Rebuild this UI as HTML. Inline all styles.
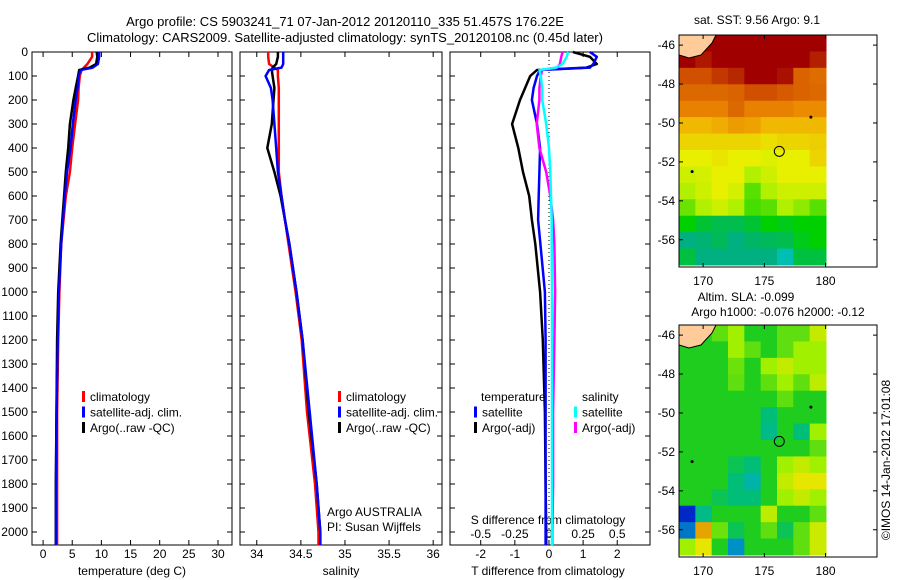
<!DOCTYPE html>
<html><head><meta charset="utf-8">
<style>
html,body{margin:0;padding:0;background:#fff;}
svg{display:block;font-family:"Liberation Sans",sans-serif;}
text{font-size:12px;fill:#000;}
</style></head>
<body>
<svg id="fig" width="900" height="580" viewBox="0 0 900 580" xmlns="http://www.w3.org/2000/svg">
<text x="345" y="26" text-anchor="middle" style="font-size:13px">Argo profile: CS 5903241_71 07-Jan-2012 20120110_335 51.457S 176.22E</text>
<text x="345" y="42" text-anchor="middle" style="font-size:13px">Climatology: CARS2009. Satellite-adjusted climatology: synTS_20120108.nc (0.45d later)</text>
<text x="757" y="24" text-anchor="middle">sat. SST: 9.56 Argo: 9.1</text>
<text x="746" y="301" text-anchor="middle">Altim. SLA: -0.099</text>
<text x="778" y="316" text-anchor="middle">Argo h1000: -0.076 h2000: -0.12</text>
<text transform="translate(890,460) rotate(-90)" text-anchor="middle">©IMOS 14-Jan-2012 17:01:08</text>
<g id="g"></g>
</svg>
<script>
// ---- profile data ----
const depthT = [0,20,50,65,75,100,150,200,300,400,500,600,700,800,1000,1200,1500,1800,2000,2055];
const tempClim = [8.4,8.4,7.6,7.0,6.6,6.3,6.1,6.0,5.5,5.0,4.6,3.9,3.5,3.1,2.8,2.6,2.4,2.4,2.4,2.4];
const tempSat  = [9.6,9.6,9.4,8.5,6.4,6.1,5.9,5.6,5.1,4.7,4.1,3.7,3.4,3.1,2.7,2.5,2.3,2.2,2.2,2.2];
const tempArgo = [9.2,9.3,9.1,8.0,6.2,6.0,5.6,5.2,4.6,4.3,3.9,3.6,3.3,3.0,2.6,2.4,2.3,2.2,2.2,2.2];
const salClim = [34.13,34.13,34.14,34.2,34.24,34.24,34.25,34.25,34.25,34.25,34.25,34.28,34.32,34.36,34.44,34.51,34.57,34.66,34.7,34.7];
const salSat  = [34.3,34.3,34.3,34.28,34.14,34.1,34.16,34.18,34.2,34.22,34.24,34.28,34.32,34.37,34.45,34.52,34.6,34.68,34.72,34.72];
const salArgo = [34.24,34.24,34.22,34.18,34.17,34.18,34.2,34.19,34.17,34.12,34.2,34.27,34.32,34.37,34.45,34.52,34.59,34.68,34.72,34.72];
const dTsat  = [1.2,1.4,1.3,1.2,-0.26,-0.35,-0.45,-0.5,-0.35,-0.26,-0.28,-0.3,-0.32,-0.25,-0.12,-0.1,-0.1,-0.1,-0.1,-0.1];
const dTargo = [0.7,1.2,1.4,1.1,-0.35,-0.55,-0.7,-0.85,-1.08,-0.9,-0.76,-0.58,-0.5,-0.4,-0.26,-0.18,-0.12,-0.1,-0.08,-0.08];
const dSsat  = [0.14,0.13,0.1,0.05,-0.07,-0.06,-0.05,-0.05,-0.02,0.0,0.01,0.015,0.02,0.02,0.022,0.022,0.022,0.022,0.022,0.022];
const dSargo = [0.1,0.09,0.08,0.06,-0.05,-0.06,-0.07,-0.07,-0.09,-0.07,-0.02,0.01,0.03,0.04,0.045,0.04,0.03,0.03,0.025,0.025];
const depthTicks = [0,100,200,300,400,500,600,700,800,900,1000,1100,1200,1300,1400,1500,1600,1700,1800,1900,2000];
const tempTicks = [0,5,10,15,20,25,30];
const salTicks = [34,34.5,35,35.5,36];
const salTickLabels = ["34","34.5","35","35.5","36"];
const dTTicks = [-2,-1,0,1,2];
const dSTicks = [-0.5,-0.25,0,0.25,0.5];
const dSTickLabels = ["-0.5","-0.25","0","0.25","0.5"];
// ---- map data ----
const lonTicks = [170,175,180];
const latTicks = [-46,-48,-50,-52,-54,-56];
const sstGrid = [
[8,8,8,8,8,8,8,8,8],
[8,7.7,8,8,8,8,8,8,7.6],
[7,7,7.3,7.5,8,8,7.8,6.6,6.4],
[6.5,6.5,6.5,6.6,7,7,6.8,6.6,6.5],
[6,6,6,6.5,6,6,6,5.8,5.8],
[5,5,5.2,5.5,5.4,5,5,5,5],
[4.5,4.5,4.5,4.5,4.5,4.3,4.5,4.5,4.6],
[4,4,4.2,4,4,3.8,4,4,4.5],
[3.5,3.6,4,4,3,3.5,4,4,4],
[3,3.5,4,3.6,2.5,3,3.5,3.5,3.5],
[2.6,3,3.5,3,2.4,2.5,3,2.8,2.5],
[2,1.6,1.4,1.4,1.6,2,1.8,2,2],
[1,1.1,1.3,1,1.2,1.3,1.4,1.8,2],
[1.5,1,1,1,1,1,0.4,1.5,1.5]];
const slaGrid = [
[0,0,0.5,1,0,0,0.5,0.5,1.5],
[0,0,0,1,0.5,0,0.5,1,1],
[0,0,0,0.6,0,1,1.5,1,1],
[0,0,0,0.5,0,0.5,1,0.5,1.4],
[0,0,0,0,0,0,0.5,0,0],
[0,0,0,0,0,-0.5,0,0,0],
[0,0,0,0,0,-0.6,0,-0.5,1],
[0,0,0,0,0,0,0,0,0.5],
[0,0,0,-0.3,-0.5,0,1,1.5,1],
[0,0,0,-0.5,-0.8,0,1.5,2,2],
[0,0,-0.3,-0.5,-0.5,0,1,1.5,1],
[-2,-0.6,0,0,0,1.4,0,0,0.5],
[-1.4,2.6,0.6,-0.3,0,0.5,-0.3,0.5,1.6],
[1,2,0,-1.2,0,0,0,0.5,1.6]];
const argoLon = 176.22, argoLat = -51.457;

const NS="http://www.w3.org/2000/svg";
const G=document.getElementById('g');
function mk(tag,attrs,parent){const e=document.createElementNS(NS,tag);for(const k in attrs)e.setAttribute(k,attrs[k]);(parent||G).appendChild(e);return e;}
function txt(x,y,s,anchor,parent){const t=mk('text',{x:x,y:y,'text-anchor':anchor||'start'},parent);t.textContent=s;return t;}

const Y0=52, PPM=0.24;
function yD(d){return Y0+d*PPM;}
const BOT=545;

function panel(name,x0,x1,xmin,xmax){
  const sx=v=>x0+(v-xmin)/(xmax-xmin)*(x1-x0);
  const r=mk('rect',{x:x0,y:Y0,width:x1-x0,height:BOT-Y0,fill:'none',stroke:'#000','stroke-width':1});
  
  
  for(const d of depthTicks){
    const l=mk('line',{x1:x0,x2:x0+5,y1:yD(d),y2:yD(d),stroke:'#000'});
    
    
    mk('line',{x1:x1-5,x2:x1,y1:yD(d),y2:yD(d),stroke:'#000'});
  }
  return sx;
}
function series(sx,xs,col,name,w){
  let p='';
  for(let i=0;i<depthT.length;i++){p+=(i?'L':'M')+sx(xs[i]).toFixed(1)+','+yD(depthT[i]).toFixed(1);}
  const e=mk('path',{d:p,fill:'none',stroke:col,'stroke-width':w||2.5,'stroke-linejoin':'round'});
  
  
}
function xticks(sx,ticks,labels,x0,x1,ylab,name){
  ticks.forEach((v,i)=>{
    const x=sx(v);
    mk('line',{x1:x,x2:x,y1:BOT,y2:BOT-5,stroke:'#000'});
    mk('line',{x1:x,x2:x,y1:Y0,y2:Y0+5,stroke:'#000'});
    const t=txt(x,ylab,labels?labels[i]:String(v),'middle');
    
    
  });
}
const sxT=panel('temperature-panel',32,232,-1.9,32.4);
depthTicks.forEach(d=>{const t=txt(28,yD(d)+4,String(d),'end');
  
  });
xticks(sxT,tempTicks,null,32,232,558,'temperature');
series(sxT,tempClim,'#ff0000','temp-climatology-line');
series(sxT,tempSat,'#0000ff','temp-satellite-line');
series(sxT,tempArgo,'#000000','temp-argo-line');
series(sxT,tempSat,'#0000ff','temp-satellite-line-top',2);
let t=txt(132,575,'temperature (deg C)','middle');
function legend(x,rows,pre){rows.forEach((r,i)=>{const y=397+i*15.5;
  if(r[0]){const m=mk('rect',{x:x,y:y-6,width:3,height:11,fill:r[0]});}
  const tt=txt(x+8,y+4,r[1]);});}
legend(82,[['#ff0000','climatology'],['#0000ff','satellite-adj. clim.'],['#000000','Argo(..raw -QC)']],'temperature');

const sxS=panel('salinity-panel',240,442,33.81,36.1);
xticks(sxS,salTicks,salTickLabels,240,442,558,'salinity');
series(sxS,salClim,'#ff0000','sal-climatology-line');
series(sxS,salArgo,'#000000','sal-argo-line');
series(sxS,salSat,'#0000ff','sal-satellite-line');
t=txt(341,575,'salinity','middle');
legend(338,[['#ff0000','climatology'],['#0000ff','satellite-adj. clim.'],['#000000','Argo(..raw -QC)']],'salinity');
t=txt(327,516,'Argo AUSTRALIA');
t=txt(327,531,'PI: Susan Wijffels');

const sxD=panel('difference-panel',450,650,-2.9,2.96);
const sxDS=v=>sxD(v*4);
xticks(sxD,dTTicks,null,450,650,558,'t-difference');
dSTicks.forEach((v,i)=>{const tt=txt(sxDS(v),538,dSTickLabels[i],'middle');});
t=txt(548,524,'S difference from climatology','middle');
t=txt(548,575,'T difference from climatology','middle');
const zl=mk('line',{x1:sxD(0),x2:sxD(0),y1:Y0,y2:BOT,stroke:'#000','stroke-dasharray':'1,3'});

series(sxD,dTargo,'#000000','t-diff-argo-line',2.5);
series(sxD,dTsat,'#0000ff','t-diff-satellite-line',2.5);
series(sxDS,dSargo,'#ff00ff','s-diff-argo-line',2.5);
series(sxDS,dSsat,'#00ffff','s-diff-satellite-line',2.5);
t=txt(481,401,'temperature');
t=txt(582,401,'salinity');
[['#0000ff','satellite',474,412.5],['#000000','Argo(-adj)',474,428],['#00ffff','satellite',574,412.5],['#ff00ff','Argo(-adj)',574,428]].forEach(r=>{
  const m=mk('rect',{x:r[2],y:r[3]-6,width:3,height:11,fill:r[0]});
  const tt=txt(r[2]+8,r[3]+4,r[1]);});

function lerpCol(stops,v){
  if(v<=stops[0][0])return stops[0][1];
  for(let i=1;i<stops.length;i++){if(v<=stops[i][0]){const a=stops[i-1],b=stops[i],f=(v-a[0])/(b[0]-a[0]);
    const c=a[1].map((x,k)=>Math.round(x+(b[1][k]-x)*f));return c;}}
  return stops[stops.length-1][1];
}
const sstStops=[[0,[0,200,210]],[1,[0,176,128]],[2,[0,208,0]],[3,[176,240,0]],[4,[232,240,0]],[5,[240,184,0]],[6,[232,128,0]],[7,[208,80,0]],[8,[160,0,0]]];
const slaStops=[[-2,[0,40,200]],[-1,[0,170,200]],[-0.5,[0,190,120]],[0,[30,205,30]],[1,[160,240,0]],[2,[230,230,0]],[3,[230,120,0]]];
function map(name,top,grid,stops){
  const X0=679,X1=877,lonMin=168.03,lonMax=184.2,latMax=-45.48,latMin=-57.4;
  const sx=l=>X0+(l-lonMin)/(lonMax-lonMin)*(X1-X0);
  const sy=l=>top+(latMax-l)/(latMax-latMin)*232;
  const dx0=679,dx1=826,dy0=top,dy1=top+230;
  const rows=grid.length,cols=grid[0].length,cw=(dx1-dx0)/cols,ch=(dy1-dy0)/rows;
  grid.forEach((row,i)=>row.forEach((v,j)=>{
    const c=lerpCol(stops,v);
    const r=mk('rect',{x:(dx0+j*cw).toFixed(2),y:(dy0+i*ch).toFixed(2),width:(cw+0.5).toFixed(2),height:(ch+0.5).toFixed(2),fill:'rgb('+c.join(',')+')'});
    
    
  }));
  const land=mk('path',{d:`M${dx0},${top} L${dx0+37},${top} L${dx0+33},${top+8} L${dx0+22},${top+20} L${dx0+10},${top+23} L${dx0},${top+20} Z`,fill:'#ffcc99',stroke:'#000','stroke-width':1});
  
  const fr=mk('rect',{x:X0,y:top,width:X1-X0,height:232,fill:'none',stroke:'#000'});
  
  lonTicks.forEach(l=>{const x=sx(l);mk('line',{x1:x,x2:x,y1:top,y2:top+4,stroke:'#000'});mk('line',{x1:x,x2:x,y1:top+232,y2:top+228,stroke:'#000'});
    const tt=txt(x,top+250,String(l),'middle');});
  latTicks.forEach(l=>{const y=sy(l);mk('line',{x1:X0,x2:X0+4,y1:y,y2:y,stroke:'#000'});mk('line',{x1:X1,x2:X1-4,y1:y,y2:y,stroke:'#000'});
    const tt=txt(X0-4,y+4,String(l),'end');});
  const c=mk('circle',{cx:sx(argoLon),cy:sy(argoLat),r:5,fill:'none',stroke:'#000'});
  
  [[169.1,-52.5],[178.8,-49.7]].forEach(p=>{const d=mk('circle',{cx:sx(p[0]),cy:sy(p[1]),r:1.5,fill:'#000'});});
}
map('sst-map',35,sstGrid,sstStops);
map('sla-map',325,slaGrid,slaStops);
</script>
</body></html>
